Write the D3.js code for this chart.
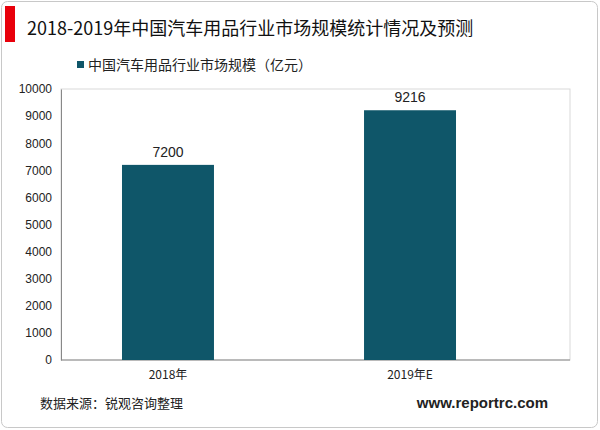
<!DOCTYPE html>
<html><head><meta charset="utf-8">
<script src="https://cdn.jsdelivr.net/npm/d3@7"></script>
<style>body{margin:0;background:#fff}svg{display:block}</style>
</head><body><svg width="600" height="430"></svg>
<script>
const categories = ["2018年", "2019年E"];
const values = [7200, 9216];
const yTicks = [0, 1000, 2000, 3000, 4000, 5000, 6000, 7000, 8000, 9000, 10000];
const seriesName = "中国汽车用品行业市场规模（亿元）";

const svg = d3.select("svg");
const font = "'Noto Sans CJK SC', 'Noto Sans', sans-serif";
const numFont = "'Liberation Sans', Arial, sans-serif";

svg.append("rect").attr("x", 1.5).attr("y", 1.5).attr("width", 596).attr("height", 426)
    .attr("rx", 6).attr("fill", "none").attr("stroke", "#c8c8c8");
svg.append("rect").attr("x", 5).attr("y", 6).attr("width", 10).attr("height", 36).attr("fill", "#e8000b");
svg.append("text").attr("x", 27).attr("y", 35).attr("font-family", font).attr("font-size", 18)
    .attr("fill", "#111").text("2018-2019年中国汽车用品行业市场规模统计情况及预测");

// legend
svg.append("rect").attr("x", 77).attr("y", 61).attr("width", 7).attr("height", 7).attr("fill", "#0f5669");
svg.append("text").attr("x", 88).attr("y", 70).attr("font-family", font).attr("font-size", 14)
    .attr("fill", "#222").text(seriesName);

const pLeft = 61, pRight = 570, pTop = 89, pBottom = 360;
// bars sit a little left of centre in the reference, so the band range stops short of the box
const x = d3.scaleBand().domain(categories).range([pLeft, 517])
    .paddingInner(0.62).paddingOuter(0.252);
const y = d3.scaleLinear().domain([0, 10000]).range([pBottom, pTop]);

svg.append("rect").attr("x", pLeft).attr("y", pTop).attr("width", pRight - pLeft).attr("height", pBottom - pTop)
    .attr("fill", "none").attr("stroke", "#d9d9d9");

const yAxis = svg.append("g").attr("transform", `translate(${pLeft},0)`)
    .call(d3.axisLeft(y).tickValues(yTicks).tickFormat(d3.format("d")).tickSize(0).tickPadding(9));
yAxis.select(".domain").attr("stroke", "#888");
yAxis.selectAll("text").attr("font-family", numFont).attr("font-size", 12).attr("fill", "#222");

const xAxis = svg.append("g").attr("transform", `translate(0,${pBottom})`)
    .call(d3.axisBottom(x).tickSize(0).tickPadding(10));
xAxis.select(".domain").attr("stroke", "#888").attr("d", `M${pLeft},0H${pRight}`);
xAxis.selectAll("text").attr("font-family", font).attr("font-size", 12).attr("fill", "#222");

svg.selectAll(".bar").data(values).join("rect")
    .attr("x", (d, i) => x(categories[i])).attr("width", x.bandwidth())
    .attr("y", d => y(d)).attr("height", d => pBottom - y(d)).attr("fill", "#0f5669");
svg.selectAll(".lbl").data(values).join("text")
    .attr("x", (d, i) => x(categories[i]) + x.bandwidth() / 2).attr("y", d => y(d) - 8)
    .attr("text-anchor", "middle").attr("font-family", numFont).attr("font-size", 14).attr("fill", "#222")
    .text(d => d);

svg.append("text").attr("x", 40).attr("y", 408).attr("font-family", font).attr("font-size", 13)
    .attr("fill", "#222").text("数据来源：锐观咨询整理");
svg.append("text").attr("x", 548).attr("y", 408).attr("text-anchor", "end").attr("font-family", numFont)
    .attr("font-size", 15).attr("font-weight", "bold").attr("fill", "#222").text("www.reportrc.com");
</script></body></html>
